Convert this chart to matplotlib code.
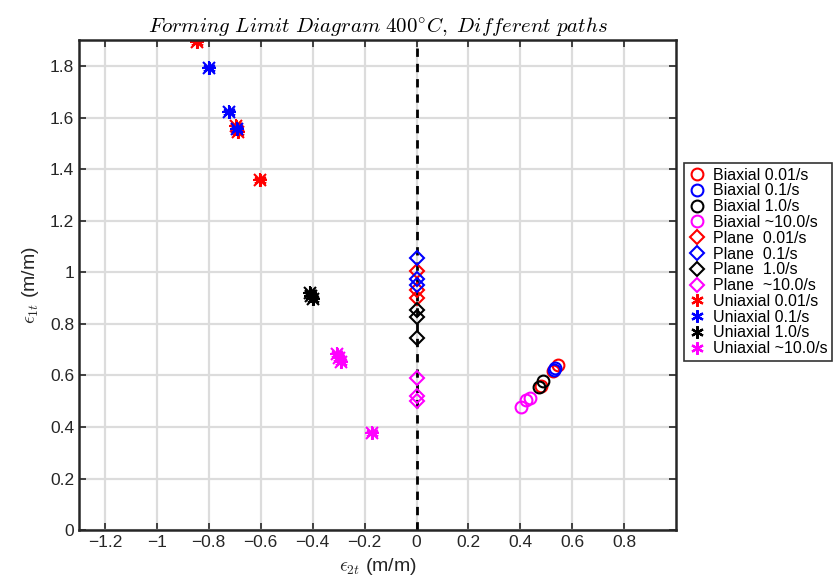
import matplotlib
matplotlib.use("Agg")
import matplotlib.pyplot as plt

plt.rcParams['font.family'] = ['Liberation Sans', 'DejaVu Sans']
plt.rcParams['mathtext.fontset'] = 'cm'

# biaxial (circles)
bi_001_x = [0.545, 0.526, 0.480]
bi_001_y = [0.640, 0.619, 0.561]
bi_01_x = [0.532, 0.528]
bi_01_y = [0.628, 0.622]
bi_1_x = [0.487, 0.473]
bi_1_y = [0.580, 0.554]
bi_10_x = [0.436, 0.423, 0.404]
bi_10_y = [0.514, 0.504, 0.478]

# plane strain (diamonds)
pl_001_x = [0.0, 0.0, 0.0]
pl_001_y = [1.005, 0.930, 0.900]
pl_01_x = [0.0, 0.0, 0.0]
pl_01_y = [1.055, 0.975, 0.950]
pl_1_x = [0.0, 0.0, 0.0]
pl_1_y = [0.853, 0.826, 0.745]
pl_10_x = [0.0, 0.0, 0.0]
pl_10_y = [0.590, 0.520, 0.500]

# uniaxial (stars)
un_001_x = [-0.846, -0.696, -0.688, -0.604]
un_001_y = [1.893, 1.567, 1.545, 1.357]
un_01_x = [-0.800, -0.723, -0.692]
un_01_y = [1.792, 1.621, 1.555]
un_1_x = [-0.412, -0.405, -0.400]
un_1_y = [0.918, 0.908, 0.897]
un_10_x = [-0.305, -0.300, -0.292, -0.173]
un_10_y = [0.683, 0.668, 0.652, 0.376]

fig = plt.figure(figsize=(8.39, 5.82), dpi=100)
ax = fig.add_axes([0.094, 0.089, 0.712, 0.842])

ax.axvline(0, color='black', ls='--', lw=2, dashes=(3, 2.5), zorder=1)

ms = 8.5
mw = 1.5
ax.plot(bi_001_x, bi_001_y, 'o', mfc='none', mec='red', ms=ms, mew=mw, label='Biaxial 0.01/s')
ax.plot(bi_01_x, bi_01_y, 'o', mfc='none', mec='blue', ms=ms, mew=mw, label='Biaxial 0.1/s')
ax.plot(bi_1_x, bi_1_y, 'o', mfc='none', mec='black', ms=ms, mew=mw, label='Biaxial 1.0/s')
ax.plot(bi_10_x, bi_10_y, 'o', mfc='none', mec='magenta', ms=ms, mew=mw, label='Biaxial ~10.0/s')
ax.plot(pl_001_x, pl_001_y, 'D', mfc='none', mec='red', ms=ms - 1.5, mew=mw, label='Plane  0.01/s')
ax.plot(pl_01_x, pl_01_y, 'D', mfc='none', mec='blue', ms=ms - 1.5, mew=mw, label='Plane  0.1/s')
ax.plot(pl_1_x, pl_1_y, 'D', mfc='none', mec='black', ms=ms - 1.5, mew=mw, label='Plane  1.0/s')
ax.plot(pl_10_x, pl_10_y, 'D', mfc='none', mec='magenta', ms=ms - 1.5, mew=mw, label='Plane  ~10.0/s')
for xs, ys, c, lab in [(un_001_x, un_001_y, 'red', 'Uniaxial 0.01/s'),
                       (un_01_x, un_01_y, 'blue', 'Uniaxial 0.1/s'),
                       (un_1_x, un_1_y, 'black', 'Uniaxial 1.0/s'),
                       (un_10_x, un_10_y, 'magenta', 'Uniaxial ~10.0/s')]:
    ax.plot(xs, ys, '*', color=c, ms=0, label=lab)
    ax.plot(xs, ys, '+', color=c, ms=ms + 2, mew=mw)
    ax.plot(xs, ys, 'x', color=c, ms=ms, mew=mw)

ax.set_xlim(-1.3, 1.0)
ax.set_ylim(0, 1.9)
ax.set_xticks([-1.2, -1, -0.8, -0.6, -0.4, -0.2, 0, 0.2, 0.4, 0.6, 0.8])
ax.set_xticklabels(['\u22121.2', '\u22121', '\u22120.8', '\u22120.6', '\u22120.4', '\u22120.2',
                    '0', '0.2', '0.4', '0.6', '0.8'])
ax.set_yticks([0, 0.2, 0.4, 0.6, 0.8, 1, 1.2, 1.4, 1.6, 1.8])
ax.set_yticklabels(['0', '0.2', '0.4', '0.6', '0.8', '1', '1.2', '1.4', '1.6', '1.8'])
ax.tick_params(direction='in', top=True, right=True, length=5, width=1.2, labelsize=12.5,
               colors='#262626', labelcolor='#262626')
ax.grid(True, color='#dcdcdc', lw=1.6)
ax.set_axisbelow(True)
for s in ax.spines.values():
    s.set_linewidth(1.8)
    s.set_color('#262626')

ax.set_title(r'$Forming\ Limit\ Diagram\ 400^{\circ}C,\ Different\ paths$', fontsize=15, pad=6)
ax.set_xlabel(r'$\epsilon_{2t}$ (m/m)', fontsize=14, labelpad=4, color='#262626')
ax.set_ylabel(r'$\epsilon_{1t}$ (m/m)', fontsize=14, labelpad=6, color='#262626')

# legend handles: use star-like marker for uniaxial
handles, labels = ax.get_legend_handles_labels()
for h in handles[8:]:
    h.set_marker((6, 2, 0))
    h.set_markersize(9)
    h.set_markeredgewidth(1.6)
leg = fig.legend(handles, labels, loc='center left', bbox_to_anchor=(0.815, 0.55),
                 fontsize=11.5, frameon=True, fancybox=False, edgecolor='black',
                 handletextpad=0.5, handlelength=1.0, borderpad=0.3, labelspacing=0.05,
                 borderaxespad=0)
leg.get_frame().set_linewidth(1.2)

fig.savefig('out.png', dpi=100)
